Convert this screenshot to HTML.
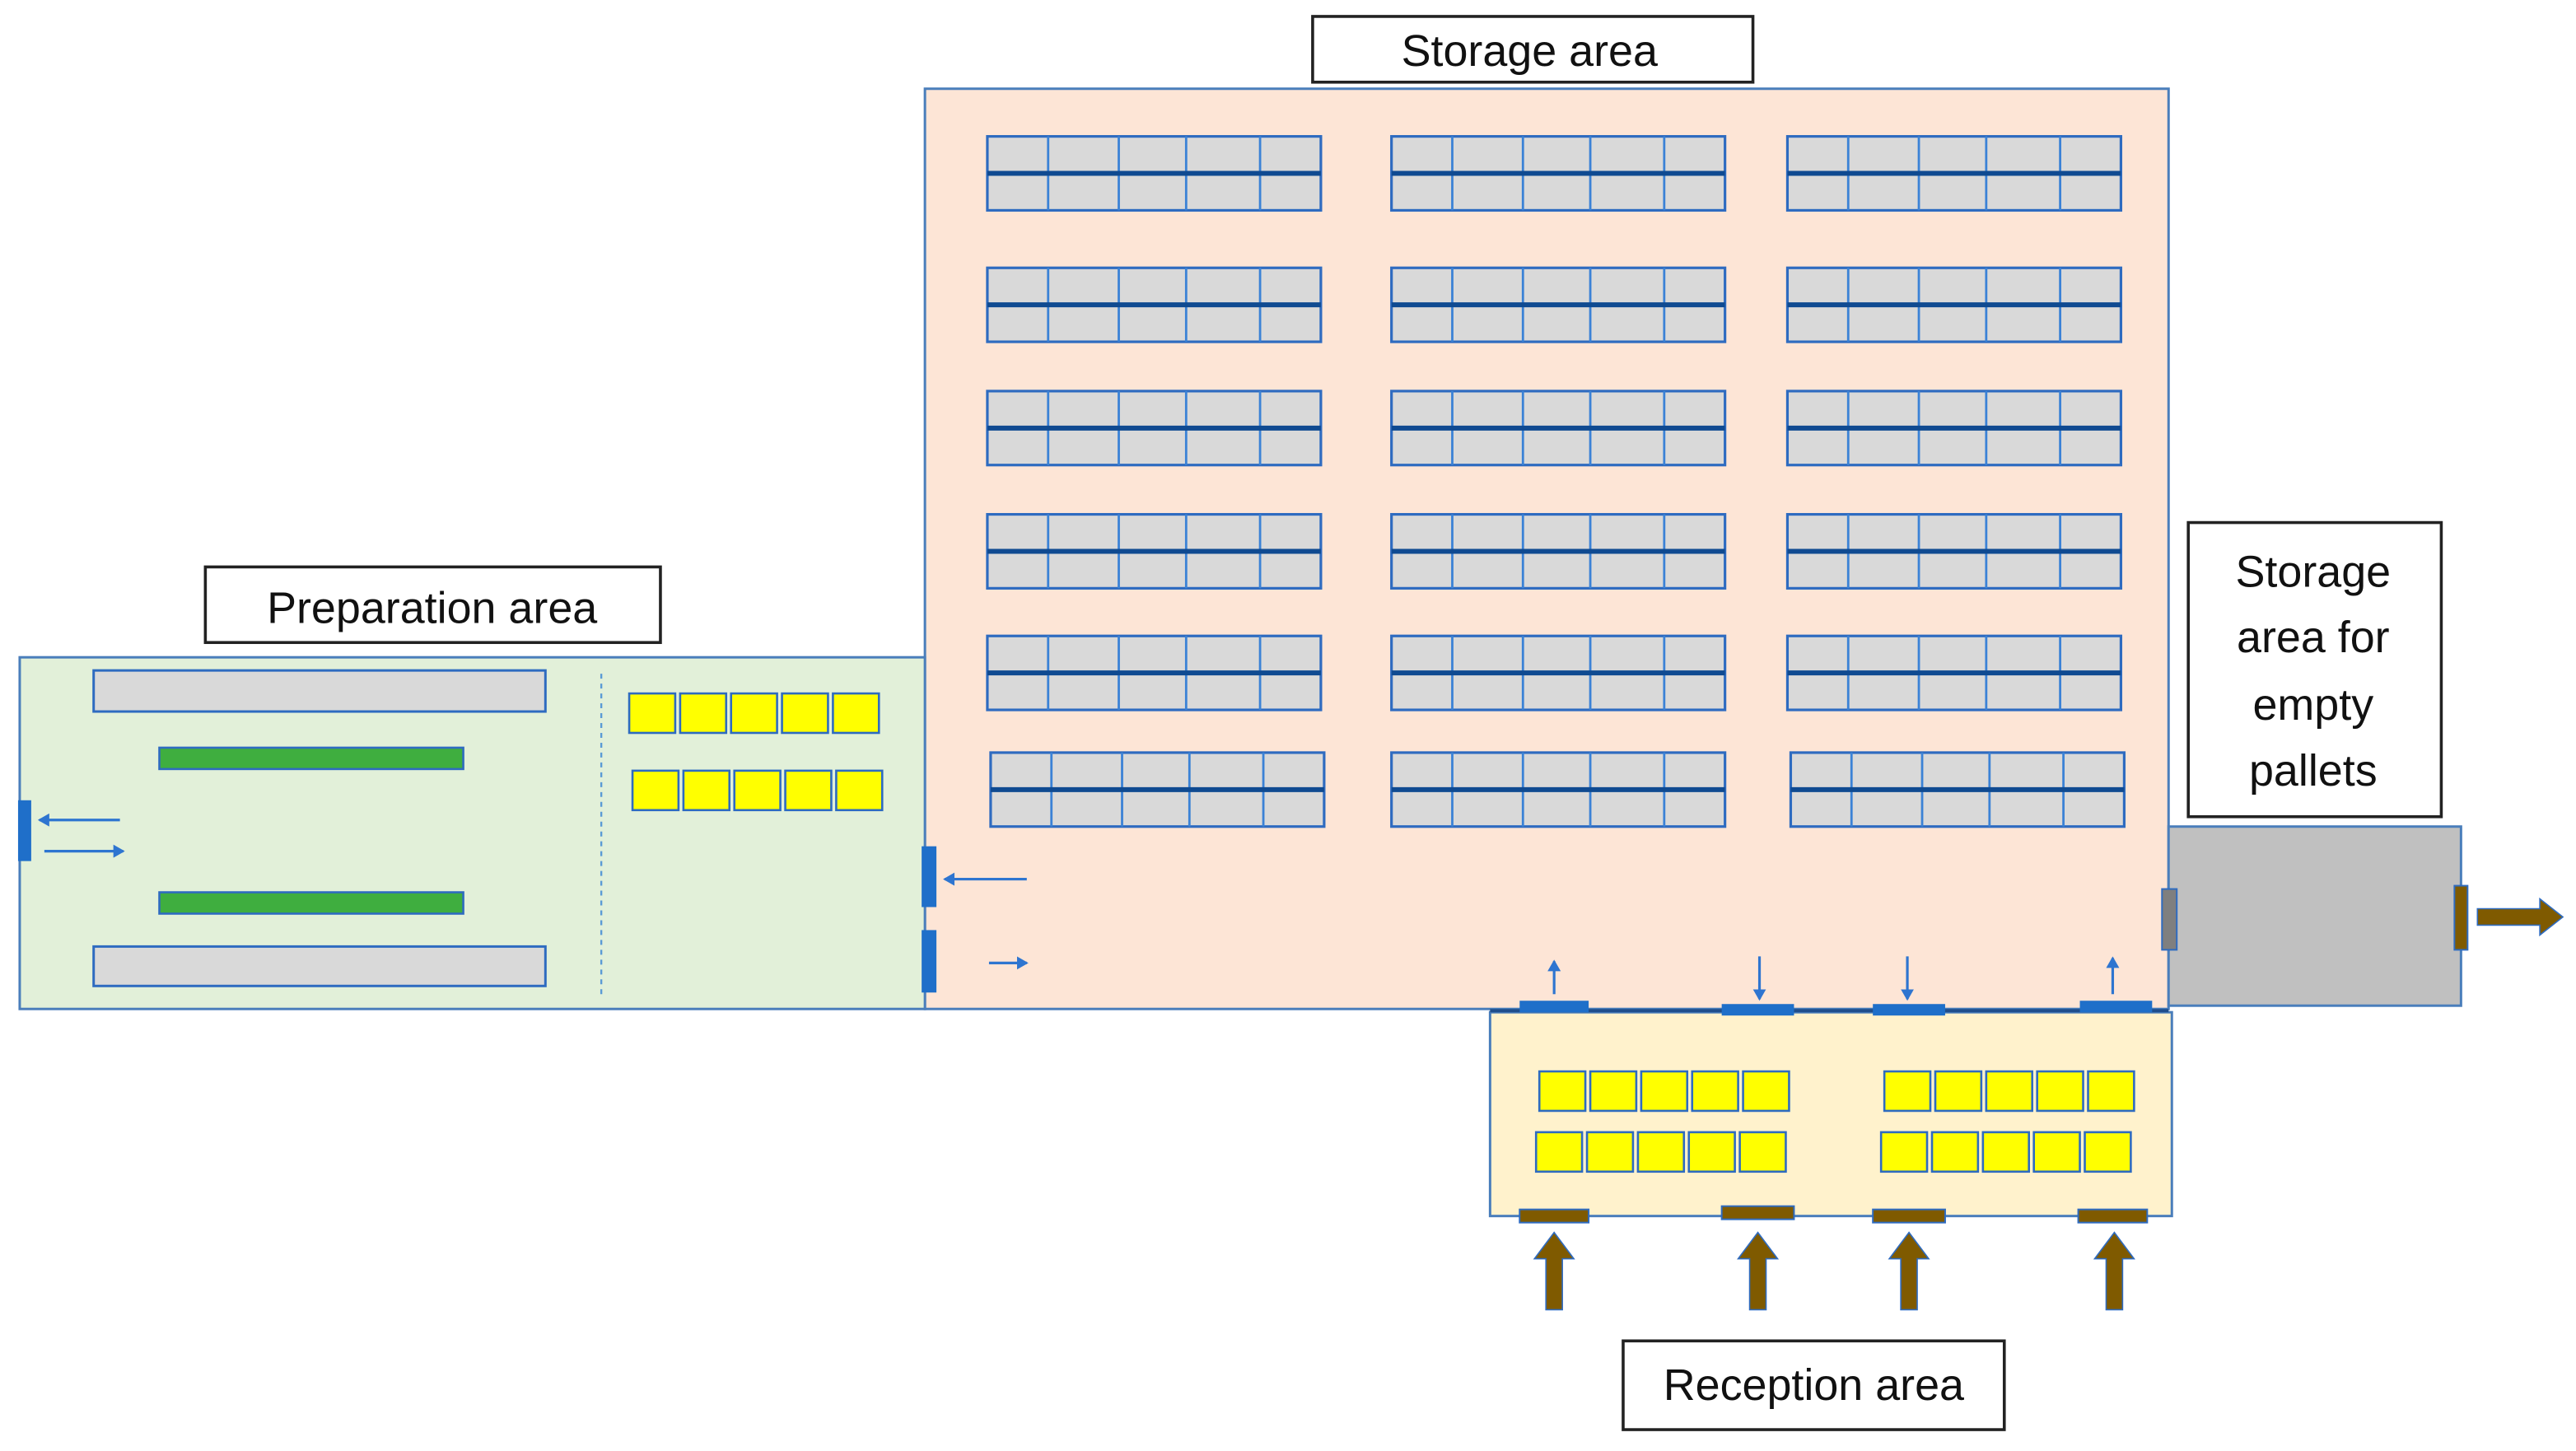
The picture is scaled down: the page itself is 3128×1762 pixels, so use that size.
<!DOCTYPE html>
<html><head><meta charset="utf-8"><style>
html,body{margin:0;padding:0;background:#fff;}
svg{display:block;}
text{font-family:"Liberation Sans",sans-serif;fill:#111;}
</style></head><body>
<svg width="3128" height="1762" viewBox="0 0 1568 883" preserveAspectRatio="none" xmlns="http://www.w3.org/2000/svg">
<defs>
<g id="rack">
<rect x="0" y="0" width="203" height="45" fill="#d9d9d9" stroke="#2e6bc0" stroke-width="1.6"/>
<line x1="37" y1="0" x2="37" y2="45" stroke="#3b82d6" stroke-width="1.4"/>
<line x1="80" y1="0" x2="80" y2="45" stroke="#3b82d6" stroke-width="1.4"/>
<line x1="121" y1="0" x2="121" y2="45" stroke="#3b82d6" stroke-width="1.4"/>
<line x1="166" y1="0" x2="166" y2="45" stroke="#3b82d6" stroke-width="1.4"/>
<line x1="0" y1="22.5" x2="203" y2="22.5" stroke="#0f4a91" stroke-width="3"/>
</g>
<g id="y5">
<rect x="0" y="0" width="28" height="24" fill="#ffff00" stroke="#2e6bc0" stroke-width="1.3"/>
<rect x="31" y="0" width="28" height="24" fill="#ffff00" stroke="#2e6bc0" stroke-width="1.3"/>
<rect x="62" y="0" width="28" height="24" fill="#ffff00" stroke="#2e6bc0" stroke-width="1.3"/>
<rect x="93" y="0" width="28" height="24" fill="#ffff00" stroke="#2e6bc0" stroke-width="1.3"/>
<rect x="124" y="0" width="28" height="24" fill="#ffff00" stroke="#2e6bc0" stroke-width="1.3"/>
</g>
<marker id="ah" markerWidth="8" markerHeight="8" refX="6" refY="4" orient="auto" markerUnits="userSpaceOnUse">
<path d="M0,0 L7,4 L0,8 Z" fill="#2e75d0"/>
</marker>
</defs>

<rect x="563" y="54" width="757" height="560" fill="#fde5d6" stroke="#4a7ebb" stroke-width="1.5"/>
<rect x="799" y="10" width="268" height="40" fill="#fff" stroke="#222" stroke-width="1.8"/>
<text x="931" y="40" font-size="27" text-anchor="middle">Storage area</text>

<use href="#rack" x="601" y="83"/><use href="#rack" x="847" y="83"/><use href="#rack" x="1088" y="83"/>
<use href="#rack" x="601" y="163"/><use href="#rack" x="847" y="163"/><use href="#rack" x="1088" y="163"/>
<use href="#rack" x="601" y="238"/><use href="#rack" x="847" y="238"/><use href="#rack" x="1088" y="238"/>
<use href="#rack" x="601" y="313"/><use href="#rack" x="847" y="313"/><use href="#rack" x="1088" y="313"/>
<use href="#rack" x="601" y="387"/><use href="#rack" x="847" y="387"/><use href="#rack" x="1088" y="387"/>
<use href="#rack" x="603" y="458"/><use href="#rack" x="847" y="458"/><use href="#rack" x="1090" y="458"/>

<rect x="12" y="400" width="551" height="214" fill="#e2f0d9" stroke="#4a7ebb" stroke-width="1.5"/>
<rect x="125" y="345" width="277" height="46" fill="#fff" stroke="#222" stroke-width="1.8"/>
<text x="263" y="379" font-size="27" text-anchor="middle">Preparation area</text>
<rect x="57" y="408" width="275" height="25" fill="#d9d9d9" stroke="#2e6bc0" stroke-width="1.5"/>
<rect x="57" y="576" width="275" height="24" fill="#d9d9d9" stroke="#2e6bc0" stroke-width="1.5"/>
<rect x="97" y="455" width="185" height="13" fill="#3fae3f" stroke="#2e6bc0" stroke-width="1.3"/>
<rect x="97" y="543" width="185" height="13" fill="#3fae3f" stroke="#2e6bc0" stroke-width="1.3"/>
<line x1="366" y1="410" x2="366" y2="608" stroke="#5b9bd5" stroke-width="1.2" stroke-dasharray="3,3"/>
<use href="#y5" x="383" y="422"/>
<use href="#y5" x="385" y="469"/>
<rect x="11" y="487" width="8" height="37" fill="#1f6fc9"/>
<line x1="73" y1="499" x2="24" y2="499" stroke="#2e75d0" stroke-width="1.6" marker-end="url(#ah)"/>
<line x1="27" y1="518" x2="75" y2="518" stroke="#2e75d0" stroke-width="1.6" marker-end="url(#ah)"/>
<rect x="561" y="515" width="9" height="37" fill="#1f6fc9"/>
<rect x="561" y="566" width="9" height="38" fill="#1f6fc9"/>
<line x1="625" y1="535" x2="575" y2="535" stroke="#2e75d0" stroke-width="1.6" marker-end="url(#ah)"/>
<line x1="602" y1="586" x2="625" y2="586" stroke="#2e75d0" stroke-width="1.6" marker-end="url(#ah)"/>

<rect x="1320" y="503" width="178" height="109" fill="#c0c0c0" stroke="#4a7ebb" stroke-width="1.5"/>
<rect x="1332" y="318" width="154" height="179" fill="#fff" stroke="#222" stroke-width="1.8"/>
<text x="1408" y="357" font-size="27" text-anchor="middle">Storage</text>
<text x="1408" y="397" font-size="27" text-anchor="middle">area for</text>
<text x="1408" y="438" font-size="27" text-anchor="middle">empty</text>
<text x="1408" y="478" font-size="27" text-anchor="middle">pallets</text>
<rect x="1316" y="541" width="9" height="37" fill="#7f7f7f" stroke="#2e6bc0" stroke-width="1"/>
<rect x="1494" y="539" width="8" height="39" fill="#7f5a00" stroke="#2e6bc0" stroke-width="1"/>
<path d="M1508,553 L1546,553 L1546,547 L1560,558 L1546,569 L1546,563 L1508,563 Z" fill="#7f5a00" stroke="#2e6bc0" stroke-width="0.8"/>

<rect x="907" y="616" width="415" height="124" fill="#fff2cc" stroke="#4a7ebb" stroke-width="1.5"/>
<line x1="907" y1="615" x2="1320" y2="615" stroke="#1f4e8c" stroke-width="2"/>
<rect x="925" y="609" width="42" height="7" fill="#1f6fc9"/>
<rect x="1048" y="611" width="44" height="7" fill="#1f6fc9"/>
<rect x="1140" y="611" width="44" height="7" fill="#1f6fc9"/>
<rect x="1266" y="609" width="44" height="7" fill="#1f6fc9"/>
<line x1="946" y1="605" x2="946" y2="585" stroke="#2e75d0" stroke-width="1.6" marker-end="url(#ah)"/>
<line x1="1071" y1="582" x2="1071" y2="608" stroke="#2e75d0" stroke-width="1.6" marker-end="url(#ah)"/>
<line x1="1161" y1="582" x2="1161" y2="608" stroke="#2e75d0" stroke-width="1.6" marker-end="url(#ah)"/>
<line x1="1286" y1="605" x2="1286" y2="583" stroke="#2e75d0" stroke-width="1.6" marker-end="url(#ah)"/>
<use href="#y5" x="937" y="652"/>
<use href="#y5" x="935" y="689"/>
<use href="#y5" x="1147" y="652"/>
<use href="#y5" x="1145" y="689"/>
<rect x="925" y="736" width="42" height="8" fill="#7f5a00" stroke="#2e6bc0" stroke-width="1"/>
<rect x="1048" y="734" width="44" height="8" fill="#7f5a00" stroke="#2e6bc0" stroke-width="1"/>
<rect x="1140" y="736" width="44" height="8" fill="#7f5a00" stroke="#2e6bc0" stroke-width="1"/>
<rect x="1265" y="736" width="42" height="8" fill="#7f5a00" stroke="#2e6bc0" stroke-width="1"/>
<path d="M941,797 L941,766 L934,766 L946,750 L958,766 L951,766 L951,797 Z" fill="#7f5a00" stroke="#2e6bc0" stroke-width="0.8"/>
<path d="M1065,797 L1065,766 L1058,766 L1070,750 L1082,766 L1075,766 L1075,797 Z" fill="#7f5a00" stroke="#2e6bc0" stroke-width="0.8"/>
<path d="M1157,797 L1157,766 L1150,766 L1162,750 L1174,766 L1167,766 L1167,797 Z" fill="#7f5a00" stroke="#2e6bc0" stroke-width="0.8"/>
<path d="M1282,797 L1282,766 L1275,766 L1287,750 L1299,766 L1292,766 L1292,797 Z" fill="#7f5a00" stroke="#2e6bc0" stroke-width="0.8"/>
<rect x="988" y="816" width="232" height="54" fill="#fff" stroke="#222" stroke-width="1.8"/>
<text x="1104" y="852" font-size="27" text-anchor="middle">Reception area</text>
</svg>
</body></html>
